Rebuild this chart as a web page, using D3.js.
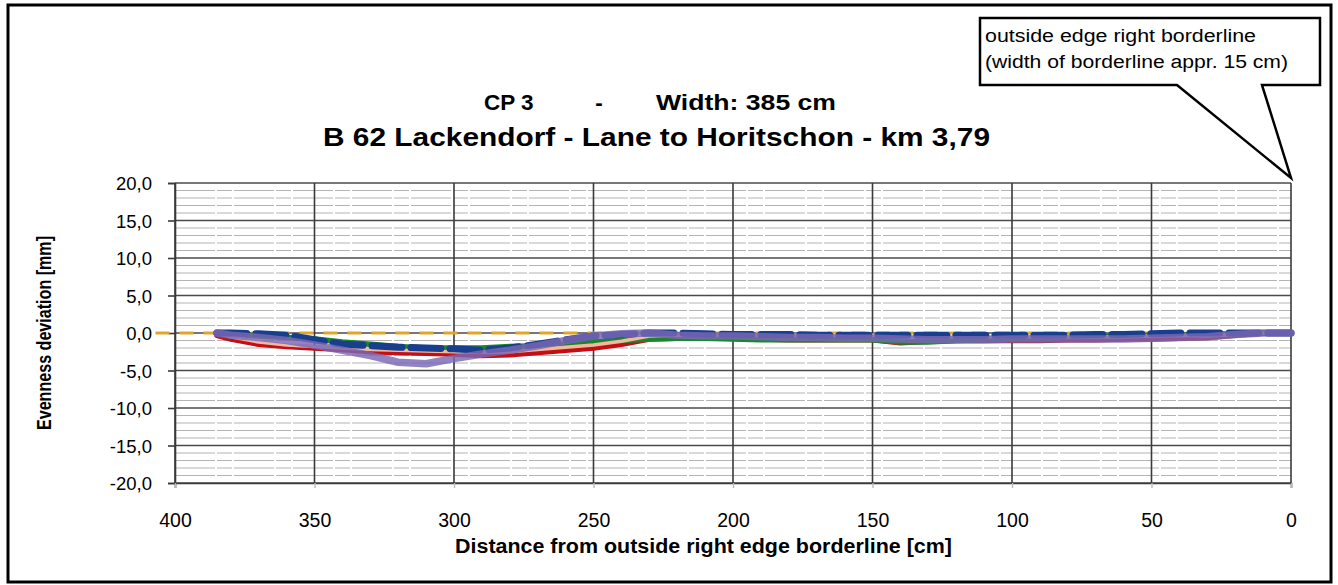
<!DOCTYPE html>
<html><head><meta charset="utf-8">
<script src="https://cdn.jsdelivr.net/npm/d3@7"></script>
<style>html,body{margin:0;padding:0;background:#fff}svg{display:block}text{font-family:"Liberation Sans",Arial,sans-serif}</style>
</head><body><svg id="c" width="1338" height="585"></svg>
<script>
// ---- data ----
const distances = [385,380,370,360,350,340,330,320,310,300,290,280,270,260,250,240,230,220,210,200,190,180,170,160,150,140,130,120,110,100,90,80,70,60,50,40,30,20,10,0];
const seriesRed    = [-0.3,-0.8,-1.5,-1.8,-2.0,-2.2,-2.5,-2.6,-2.7,-2.8,-3.0,-2.9,-2.6,-2.3,-2.0,-1.5,-0.8,-0.7,-0.7,-0.6,-0.8,-0.9,-0.9,-0.9,-0.9,-1.3,-1.1,-1.0,-1.0,-1.0,-1.0,-0.9,-0.9,-0.8,-0.8,-0.7,-0.6,-0.3,0,0];
const seriesGreen  = [0,-0.2,-0.4,-0.6,-0.8,-1.2,-1.5,-1.8,-2.0,-2.0,-2.0,-1.8,-1.7,-1.5,-1.2,-1.0,-0.8,-0.7,-0.7,-0.8,-0.9,-0.9,-0.9,-0.9,-0.9,-1.2,-1.2,-1.0,-0.9,-0.8,-0.7,-0.6,-0.5,-0.4,-0.3,-0.3,-0.2,-0.1,0,0];
const seriesPink   = [0,-0.5,-1.2,-1.6,-1.8,-2.0,-2.2,-2.3,-2.4,-2.5,-2.6,-2.5,-2.2,-1.9,-1.6,-1.1,-0.4,-0.3,-0.3,-0.2,-0.3,-0.3,-0.3,-0.3,-0.3,-0.5,-0.5,-0.5,-0.5,-0.5,-0.5,-0.5,-0.5,-0.5,-0.4,-0.3,-0.4,-0.2,0,0];
const seriesBlue   = [0,0,-0.1,-0.3,-0.9,-1.5,-1.7,-1.9,-2.0,-2.1,-2.3,-2.0,-1.5,-0.9,-0.4,-0.2,0,0,-0.1,-0.2,-0.2,-0.2,-0.3,-0.3,-0.3,-0.3,-0.3,-0.3,-0.3,-0.3,-0.3,-0.3,-0.2,-0.2,-0.1,0,0,0,0,0];
const seriesPurple = [0,-0.3,-0.6,-1.0,-1.6,-2.3,-3.0,-3.9,-4.1,-3.4,-2.8,-2.3,-1.7,-1.0,-0.4,-0.1,0,-0.3,-0.4,-0.4,-0.5,-0.6,-0.6,-0.7,-0.7,-0.8,-0.9,-0.9,-0.9,-0.8,-0.8,-0.8,-0.8,-0.8,-0.7,-0.6,-0.5,-0.2,0,0];
const zeroRefX = [407, 0];
const zeroRefY = [0, 0];
const xTicks = [400,350,300,250,200,150,100,50,0];
const yTicks = [20,15,10,5,0,-5,-10,-15,-20];
const yMinor = d3.range(-20, 21, 1);

const titleLine1 = ["CP 3", "-", "Width: 385 cm"];
const titleLine2 = "B 62 Lackendorf - Lane to Horitschon - km 3,79";
const xTitle = "Distance from outside right edge borderline [cm]";
const yTitle = "Evenness deviation [mm]";
const callout = ["outside edge right borderline", "(width of borderline appr. 15 cm)"];

// ---- layout ----
const svg = d3.select("#c");
const L = 175, R = 1291, T = 183, B = 483;
const x = d3.scaleLinear().domain([400, 0]).range([L, R]);
const y = d3.scaleLinear().domain([-20, 20]).range([B, T]);

// outer frame
svg.append("rect").attr("x", 8).attr("y", 5).attr("width", 1323).attr("height", 577)
  .attr("fill", "#fff").attr("stroke", "#000").attr("stroke-width", 3);

// minor grid
svg.append("g").selectAll("line").data(yMinor.filter(v => v % 5 !== 0)).join("line")
  .attr("x1", L).attr("x2", R).attr("y1", d => y(d)).attr("y2", d => y(d))
  .attr("stroke", "#b4b4b4").attr("stroke-width", 1.2).attr("stroke-dasharray", "40,2,15,2");

// major grid
svg.append("g").selectAll("line").data(yTicks).join("line")
  .attr("x1", L).attr("x2", R).attr("y1", d => y(d)).attr("y2", d => y(d))
  .attr("stroke", "#4a4a4a").attr("stroke-width", 1.4);
svg.append("g").selectAll("line").data(xTicks).join("line")
  .attr("x1", d => x(d)).attr("x2", d => x(d)).attr("y1", T).attr("y2", B)
  .attr("stroke", "#3a3a3a").attr("stroke-width", 1.6);

// axes
const fmt = d => d3.format(".1f")(d).replace(".", ",").replace("−", "-");
const yAxis = svg.append("g").attr("transform", `translate(${L},0)`)
  .call(d3.axisLeft(y).tickValues(yTicks).tickFormat(fmt).tickSize(7).tickPadding(16));
yAxis.select(".domain").attr("stroke", "#3a3a3a").attr("stroke-width", 1.6);
yAxis.selectAll(".tick line").attr("stroke", "#3a3a3a").attr("stroke-width", 1.6);
yAxis.selectAll("text").attr("font-size", 18.5).attr("fill", "#000").attr("dy", "0.36em");

const xAxis = svg.append("g").attr("transform", `translate(0,${B})`)
  .call(d3.axisBottom(x).tickValues(xTicks).tickSize(5).tickPadding(25));
xAxis.select(".domain").attr("stroke", "#3a3a3a").attr("stroke-width", 1.6);
xAxis.selectAll(".tick line").attr("stroke", "#bbb").attr("stroke-width", 1.4);
xAxis.selectAll("text").attr("font-size", 19.5).attr("fill", "#000");

// series
const line = d3.line().x(d => x(d[0])).y(d => y(d[1]));
const zip = (xs, ys) => xs.map((v, i) => [v, ys[i]]);

svg.append("path").datum(zip(zeroRefX, zeroRefY)).attr("d", line)
  .attr("fill", "none").attr("stroke", "#e0a52a").attr("stroke-width", 3).attr("stroke-dasharray", "14,10");

const series = [
  {v: seriesRed,    c: "#c40d14", w: 5.5, o: 1, dash: null},
  {v: seriesGreen,  c: "#17872a", w: 5.5, o: 1, dash: null},
  {v: seriesPink,   c: "#f2b8a0", w: 3.5, o: 1, dash: null},
  {v: seriesBlue,   c: "#173f8e", w: 7,   o: 1, dash: "30,9"},
  {v: seriesPurple, c: "#7a68b4", w: 7.5, o: 0.82, dash: null}
];
svg.append("g").selectAll("path").data(series).join("path")
  .attr("d", s => line(zip(distances, s.v)))
  .attr("fill", "none").attr("stroke", s => s.c).attr("stroke-width", s => s.w)
  .attr("stroke-opacity", s => s.o).attr("stroke-linejoin", "round").attr("stroke-linecap", "round")
  .attr("stroke-dasharray", s => s.dash);

// titles
const t1 = svg.append("g").attr("font-weight", "bold").attr("font-size", 22.5);
t1.append("text").attr("x", 484).attr("y", 110).text(titleLine1[0]);
t1.append("text").attr("x", 599).attr("y", 110).attr("text-anchor", "middle").text(titleLine1[1]);
t1.append("text").attr("x", 656).attr("y", 110).attr("textLength", 180).attr("lengthAdjust", "spacingAndGlyphs").text(titleLine1[2]);
svg.append("text").attr("x", 323).attr("y", 146)
  .attr("font-weight", "bold").attr("font-size", 26).attr("textLength", 667).attr("lengthAdjust", "spacingAndGlyphs").text(titleLine2);

svg.append("text").attr("x", 455).attr("y", 553)
  .attr("font-weight", "bold").attr("font-size", 19.5).attr("textLength", 497).attr("lengthAdjust", "spacingAndGlyphs").text(xTitle);
svg.append("text").attr("transform", `translate(51,${(T + B) / 2}) rotate(-90)`).attr("text-anchor", "middle")
  .attr("font-weight", "bold").attr("font-size", 20).attr("textLength", 194).attr("lengthAdjust", "spacingAndGlyphs").text(yTitle);

// callout
const tipX = x(0), tipY = y(20) - 5;
svg.append("path")
  .attr("d", `M980,18 H1320 V85 H1262 L${tipX},${tipY} L1177,85 H980 Z`)
  .attr("fill", "#fff").attr("stroke", "#000").attr("stroke-width", 2.5).attr("stroke-linejoin", "miter");
const calloutLen = [271, 303];
svg.append("g").selectAll("text").data(callout).join("text")
  .attr("x", 985).attr("y", (d, i) => 42 + i * 26).attr("font-size", 18)
  .attr("textLength", (d, i) => calloutLen[i]).attr("lengthAdjust", "spacingAndGlyphs").text(d => d);
</script></body></html>
